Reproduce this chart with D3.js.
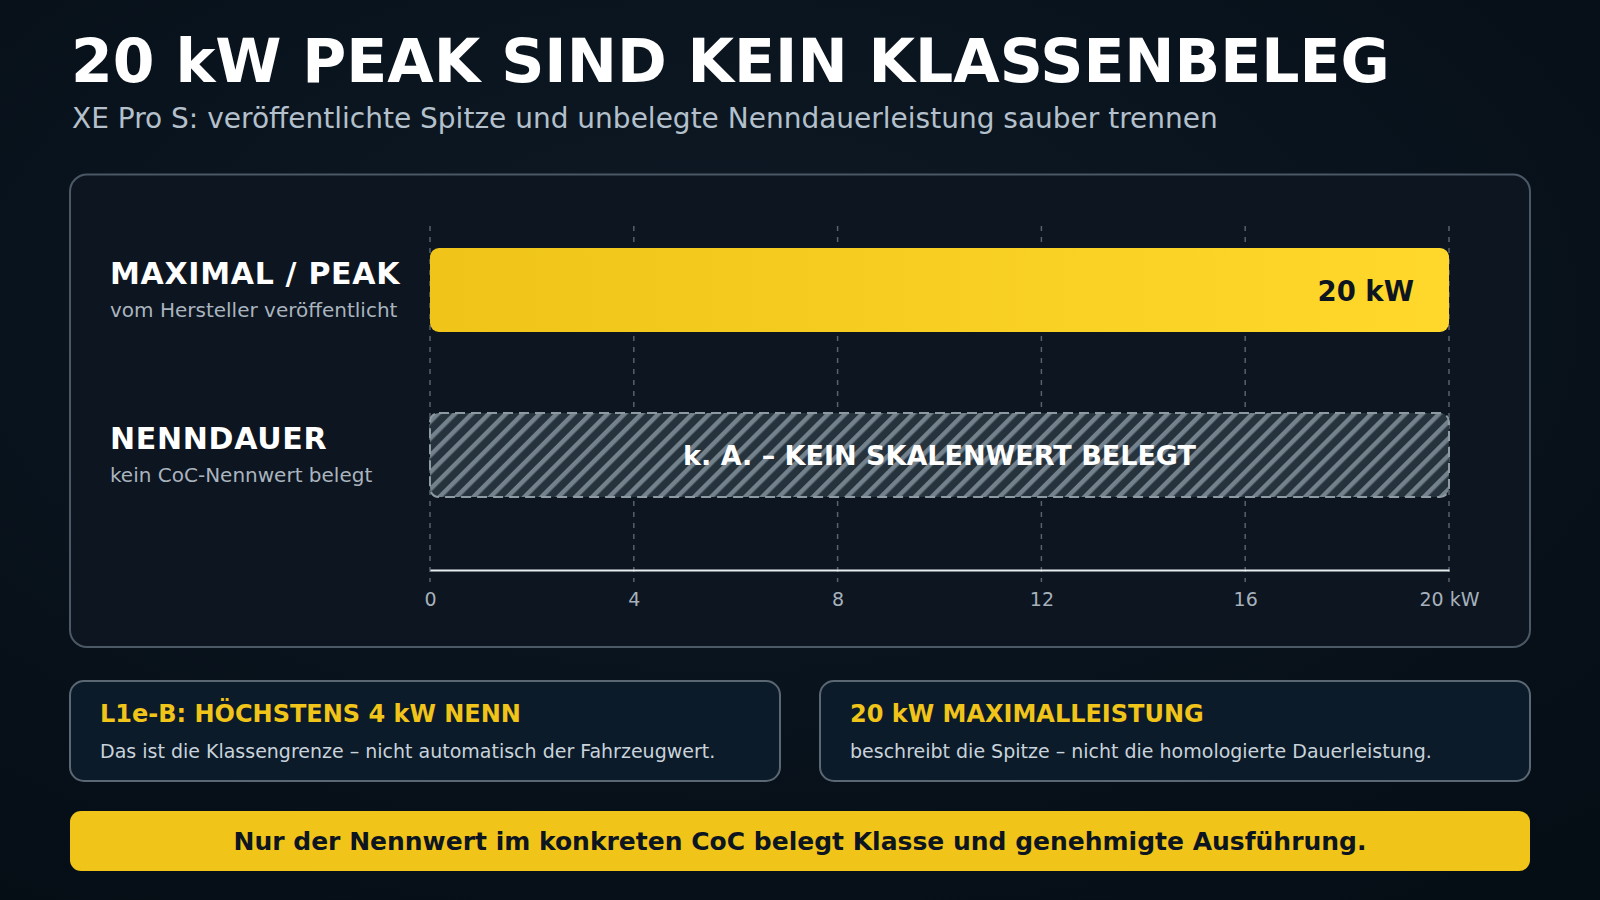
<!DOCTYPE html>
<html><head><meta charset="utf-8">
<script src="https://cdn.jsdelivr.net/npm/d3@7"></script>
<style>
html,body{margin:0;padding:0;background:#08121c;}
svg{display:block;font-family:"DejaVu Sans",sans-serif;}
</style></head>
<body>
<svg id="c" width="1600" height="900"></svg>
<script>
const title = "20 kW PEAK SIND KEIN KLASSENBELEG";
const subtitle = "XE Pro S: veröffentlichte Spitze und unbelegte Nenndauerleistung sauber trennen";
const categories = ["MAXIMAL / PEAK", "NENNDAUER"];
const subLabels = ["vom Hersteller veröffentlicht", "kein CoC-Nennwert belegt"];
const values = [20, null];
const barLabels = ["20 kW", "k. A. – KEIN SKALENWERT BELEGT"];
const tickValues = [0, 4, 8, 12, 16, 20];
const tickLabels = ["0", "4", "8", "12", "16", "20 kW"];
const cardTitles = ["L1e-B: HÖCHSTENS 4 kW NENN", "20 kW MAXIMALLEISTUNG"];
const cardTexts = ["Das ist die Klassengrenze – nicht automatisch der Fahrzeugwert.", "beschreibt die Spitze – nicht die homologierte Dauerleistung."];
const banner = "Nur der Nennwert im konkreten CoC belegt Klasse und genehmigte Ausführung.";

const svg = d3.select("#c");
const defs = svg.append("defs");

const bg = defs.append("radialGradient").attr("id","bg").attr("cx","0.45").attr("cy","0.35").attr("r","0.8");
bg.append("stop").attr("offset","0").attr("stop-color","#0e1a26");
bg.append("stop").attr("offset","1").attr("stop-color","#050d15");

const yg = defs.append("linearGradient").attr("id","yel").attr("x1","0").attr("x2","1").attr("y1","0").attr("y2","0");
yg.append("stop").attr("offset","0").attr("stop-color","#f0c419");
yg.append("stop").attr("offset","1").attr("stop-color","#ffd82b");

const pat = defs.append("pattern").attr("id","hatch").attr("patternUnits","userSpaceOnUse")
  .attr("width",12).attr("height",12).attr("patternTransform","rotate(45)");
pat.append("rect").attr("width",12).attr("height",12).attr("fill","#26333d");
pat.append("rect").attr("x",0).attr("width",4.5).attr("height",12).attr("fill","#73828c");

svg.append("rect").attr("width",1600).attr("height",900).attr("fill","url(#bg)");

svg.append("text").attr("x",71).attr("y",82).attr("fill","#ffffff")
  .attr("font-size",60).attr("font-weight","bold").text(title);
svg.append("text").attr("x",72).attr("y",128).attr("fill","#b4c0cb")
  .attr("font-size",28).text(subtitle);

// panel
svg.append("rect").attr("x",70).attr("y",174.5).attr("width",1460).attr("height",472.5)
  .attr("rx",17).attr("fill","#0d1520").attr("stroke","#4b5865").attr("stroke-width",2);

const x = d3.scaleLinear().domain([0,20]).range([430,1449]);
const y = d3.scalePoint().domain(categories).range([290,455]);
const barH = 84;
const axisY = 570;

// gridlines
svg.append("g").selectAll("line").data(tickValues).join("line")
  .attr("x1",d=>x(d)).attr("x2",d=>x(d)).attr("y1",226).attr("y2",582)
  .attr("stroke","#56626d").attr("stroke-width",1.5).attr("stroke-dasharray","5,6");

// bars
const rows = categories.map((c,i)=>({c, sub:subLabels[i], v:values[i], label:barLabels[i]}));
const g = svg.append("g");
rows.forEach(r=>{
  const cy = y(r.c);
  if (r.v != null) {
    g.append("rect").attr("x",x(0)).attr("y",cy-barH/2).attr("width",x(r.v)-x(0)).attr("height",barH)
      .attr("rx",9).attr("fill","url(#yel)");
    g.append("text").attr("x",x(r.v)-35).attr("y",cy+11).attr("text-anchor","end")
      .attr("font-size",27.5).attr("font-weight","bold").attr("fill","#0c1520").text(r.label);
  } else {
    const [d0,d1] = x.domain();
    g.append("rect").attr("x",x(d0)).attr("y",cy-barH/2).attr("width",x(d1)-x(d0)).attr("height",barH)
      .attr("rx",9).attr("fill","url(#hatch)").attr("stroke","#8e9aa3").attr("stroke-width",2)
      .attr("stroke-dasharray","10,6");
    g.append("text").attr("x",(x(d0)+x(d1))/2).attr("y",cy+10).attr("text-anchor","middle")
      .attr("font-size",27).attr("font-weight","bold").attr("fill","#ffffff").text(r.label);
  }
  g.append("text").attr("x",110).attr("y",cy-6).attr("font-size",30).attr("font-weight","bold")
    .attr("fill","#ffffff").attr("letter-spacing",0.7).text(r.c);
  g.append("text").attr("x",110).attr("y",cy+27).attr("font-size",20)
    .attr("fill","#a9b4bf").text(r.sub);
});

// axis
const axis = d3.axisBottom(x).tickValues(tickValues).tickFormat((d,i)=>tickLabels[i]).tickSize(0).tickPadding(0);
const ag = svg.append("g").attr("transform",`translate(0,${axisY})`).call(axis);
ag.select(".domain").attr("stroke","#e8edf0").attr("stroke-width",2);
ag.selectAll(".tick text").attr("dy",0).attr("y",36).attr("font-size",19).attr("fill","#a6b1bc")
  .attr("font-family","DejaVu Sans");

// cards
const cardX = [70, 820];
cardTitles.forEach((t,i)=>{
  svg.append("rect").attr("x",cardX[i]).attr("y",681).attr("width",710).attr("height",100)
    .attr("rx",14).attr("fill","#0c1b2a").attr("stroke","#5b6874").attr("stroke-width",2);
  svg.append("text").attr("x",cardX[i]+30).attr("y",721.5).attr("font-size",24).attr("font-weight","bold")
    .attr("fill","#f0c419").text(t);
  svg.append("text").attr("x",cardX[i]+30).attr("y",757.5).attr("font-size",19)
    .attr("fill","#c9d3db").text(cardTexts[i]);
});

// banner
svg.append("rect").attr("x",70).attr("y",811).attr("width",1460).attr("height",60)
  .attr("rx",11).attr("fill","#f1c419");
svg.append("text").attr("x",800).attr("y",850).attr("text-anchor","middle").attr("font-size",25)
  .attr("font-weight","bold").attr("fill","#0c1520").text(banner);
</script>
</body></html>
